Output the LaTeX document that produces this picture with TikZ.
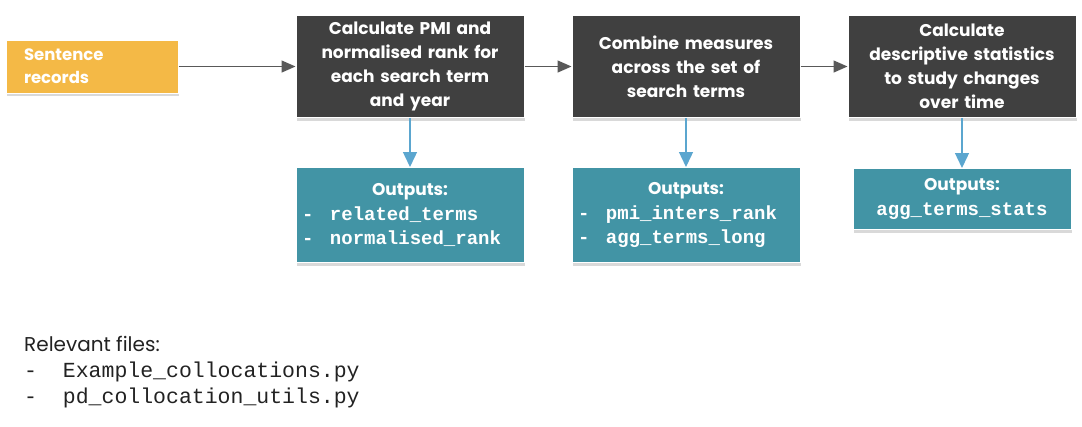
\documentclass[tikz,border=0pt]{standalone}
\usepackage{xcolor}
\usepackage{fontspec}
\setmainfont{Poppins}
\setmonofont{Liberation Mono}
\usepackage{tikz}
\usetikzlibrary{arrows.meta,positioning,shadows}

\definecolor{recordorange}{HTML}{F4B946}
\definecolor{stepgrey}{HTML}{404040}
\definecolor{outteal}{HTML}{4294A5}
\definecolor{flowgrey}{HTML}{595959}
\definecolor{outblue}{HTML}{5BA6CF}
\definecolor{filetext}{HTML}{222222}

\begin{document}
\begin{tikzpicture}[node distance=47pt,
                    box/.style={draw=white, line width=1pt, inner sep=0pt, text=white,
                                drop shadow={opacity=0.3, shadow xshift=0.5pt, shadow yshift=-3pt}},
                    recordbox/.style={box, fill=recordorange, minimum width=172pt, minimum height=53pt,
                                      text width=136pt, align=left,
                                      font=\bfseries\fontsize{16.5}{23}\selectfont},
                    stepbox/.style={box, fill=stepgrey, minimum width=228pt, minimum height=102pt,
                                    text width=220pt, align=center,
                                    font=\bfseries\fontsize{17}{24}\selectfont},
                    outbox/.style={box, fill=outteal, minimum width=228pt, minimum height=95pt,
                                   text width=216pt, align=left,
                                   font=\bfseries\fontsize{17}{24.5}\selectfont},
                    flow/.style={draw=flowgrey, line width=1.4pt,
                                 arrows={-Triangle[length=14pt, width=12pt]}},
                    result/.style={draw=outblue, line width=1.4pt,
                                   arrows={-Triangle[length=15pt, width=14pt]}}]
    \path[use as bounding box] (0,0) rectangle (1082pt,-426pt);

   \node[recordbox] (records) at (92pt,-66.5pt) {Sentence\\records};
   \node[stepbox] (pmi) [right=117pt of records] {Calculate PMI and\\normalised rank for\\each search term\\and year};
   \node[stepbox] (combine) [right=of pmi] {Combine measures\\across the set of\\search terms};
   \node[stepbox] (stats) [right=of combine] {Calculate\\descriptive statistics\\to study changes\\over time};

   \node[outbox] (pmi_out) [below=49pt of pmi]
      {{\centering Outputs:\par}\ttfamily\fontsize{19}{24.5}\selectfont
       \makebox[28pt][l]{-}related\_terms\\\makebox[28pt][l]{-}normalised\_rank};
   \node[outbox] (combine_out) [below=49pt of combine]
      {{\centering Outputs:\par}\ttfamily\fontsize{19}{24.5}\selectfont
       \makebox[28pt][l]{-}pmi\_inters\_rank\\\makebox[28pt][l]{-}agg\_terms\_long};
   \node[outbox, minimum width=218pt, minimum height=61pt, text width=206pt, align=center] (stats_out) [below=50pt of stats]
      {Outputs:\\{\ttfamily\fontsize{19}{24.5}\selectfont agg\_terms\_stats}};

   \node[anchor=north west, inner sep=0pt, align=left, text=filetext,
         font=\fontsize{20}{26}\selectfont] (files) at (24pt,-336pt)
      {Relevant files:\\
       {\ttfamily\fontsize{21.5}{26}\selectfont -~~Example\_collocations.py}\\
       {\ttfamily\fontsize{21.5}{26}\selectfont -~~pd\_collocation\_utils.py}};

   % Define transitions
   \draw[flow] (records) -- (pmi);
   \draw[flow] (pmi) -- (combine);
   \draw[flow] (combine) -- (stats);
   \draw[result] (pmi) -- (pmi_out);
   \draw[result] (combine) -- (combine_out);
   \draw[result] (stats) -- (stats_out);

\end{tikzpicture}
\end{document}
